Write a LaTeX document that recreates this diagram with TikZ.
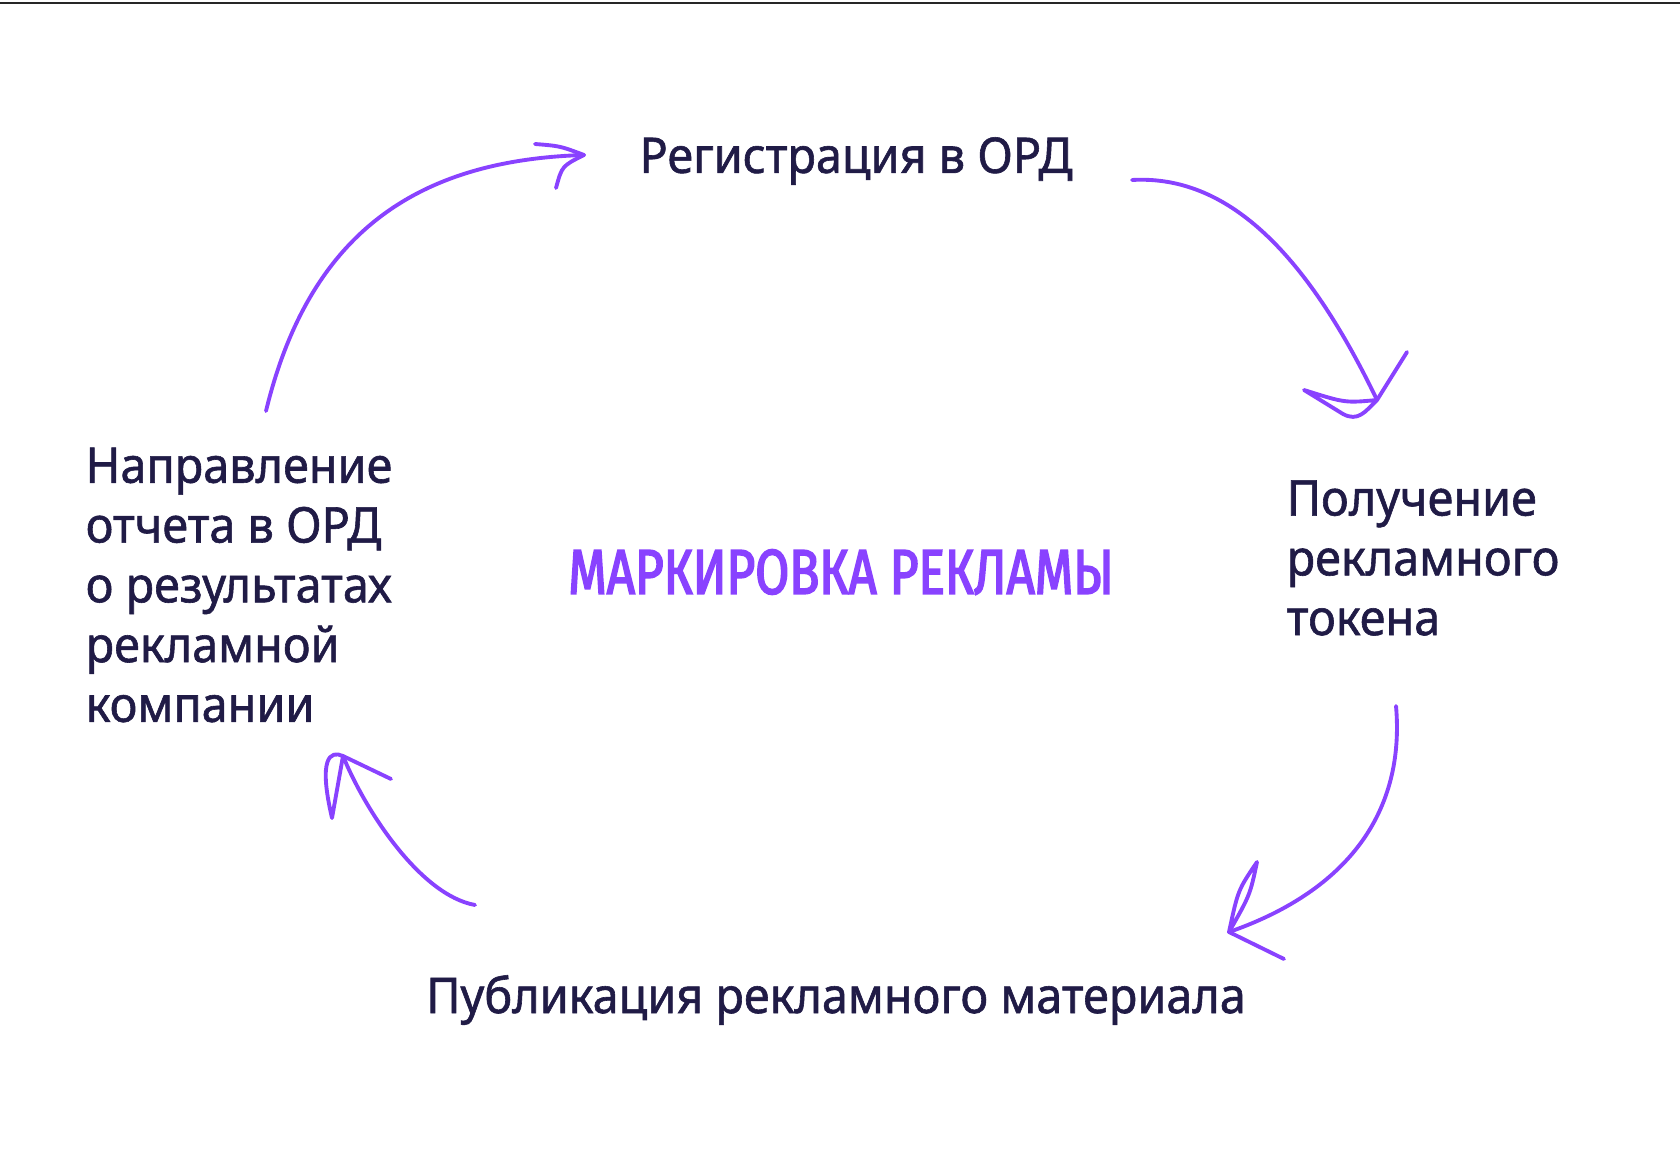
\documentclass[tikz,border=0pt]{standalone}
\usepackage{fontspec}
\setmainfont{Noto Sans}[RawFeature={embolden=1.2}, FakeStretch=0.95]
\newfontfamily\handfont{Fira Sans}[RawFeature={embolden=2.6}, FakeStretch=0.78]
\usetikzlibrary{positioning}
\definecolor{ordpurple}{RGB}{137,66,255}
\definecolor{ordnavy}{RGB}{32,27,70}

\begin{document}
\begin{tikzpicture}[x=0.01cm, y=-0.01cm,
    stage/.style={inner sep=0pt, text=ordnavy, font=\fontsize{14}{17}\selectfont, align=left},
    handline/.style={draw=ordpurple, line width=1.1pt, line cap=round, line join=round}
]
\useasboundingbox (0,0) rectangle (1680,1167);
\draw[line width=0.8pt, black!85] (0,3) -- (1680,3);

\node[stage] (reg) at (856,161) {Регистрация в ОРД};
\node[stage, anchor=west] (token) at (1286,558) {Получение\\рекламного\\токена};
\node[stage] (pub) at (836,1000) {Публикация рекламного материала};
\node[stage, anchor=west] (report) at (85,585) {Направление\\отчета в ОРД\\о результатах\\рекламной\\компании};
\node[font=\handfont\fontsize{18}{20}\selectfont, text=ordpurple] (title) at (841,572) {МАРКИРОВКА РЕКЛАМЫ};

% free ends of the hand-drawn arrows
\coordinate (a1s) at (266,411);  \coordinate (a1e) at (584,155);
\coordinate (a2s) at (1132,180); \coordinate (a2e) at (1377,400);
\coordinate (a3s) at (1396,706); \coordinate (a3e) at (1229,932);
\coordinate (a4s) at (475,905);  \coordinate (a4e) at (343,756);

% report -> registration
\draw[handline] (a1s) .. controls (310,230) and (420,160) .. (a1e);
\draw[handline] (535,144) .. controls (560,146) .. (a1e) .. controls (562,166) .. (556,188);
% registration -> token
\draw[handline] (a2s) .. controls (1220,175) and (1300,240) .. (a2e);
\draw[handline] (1407,352) -- (a2e) .. controls (1345,403) .. (1304,390) -- (1343,414) .. controls (1358,422) and (1365,412) .. (a2e);
% token -> publication
\draw[handline] (a3s) .. controls (1405,810) and (1350,890) .. (a3e);
\draw[handline] (a3e) .. controls (1238,890) .. (1257,862) .. controls (1250,895) .. (a3e) -- (1284,959);
% publication -> report
\draw[handline] (a4s) .. controls (420,895) and (365,810) .. (a4e);
\draw[handline] (391,779) -- (a4e) .. controls (330,750) and (318,758) .. (332,818) -- (a4e);
\end{tikzpicture}
\end{document}
